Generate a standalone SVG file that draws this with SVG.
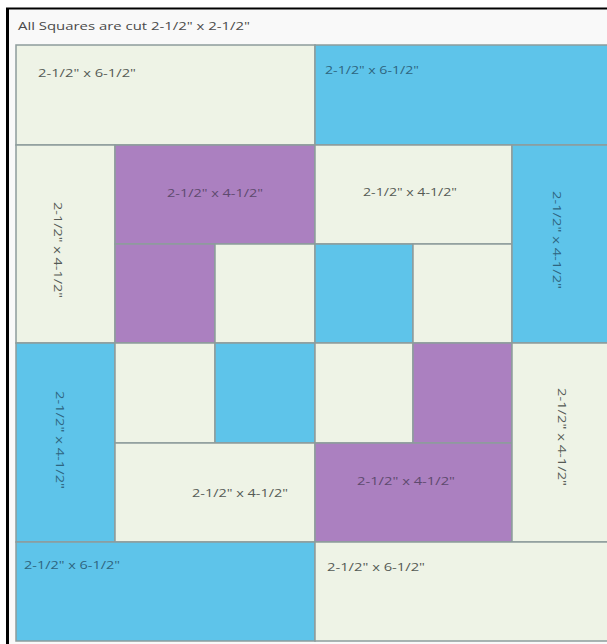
<svg xmlns="http://www.w3.org/2000/svg" width="607" height="644" viewBox="0 0 607 644">
<style>
.cr{fill:#eef3e6}
.bl{fill:#5ec4ea}
.pu{fill:#ab80c0}
.cell{stroke:#8d9c9c;stroke-width:1.5}
text{font-family:"Open Sans","Liberation Sans",sans-serif;font-size:11px}
.tc{fill:#555a55}
.tb{fill:#2e6580}
.tp{fill:#5e4a6e}
.hd{fill:#4a4a4a;font-size:11.5px}
</style>
<rect x="0" y="0" width="607" height="644" fill="#ffffff"/>
<rect x="9" y="10" width="598" height="634" fill="#f9f9f9"/>
<line x1="7.5" y1="8" x2="7.5" y2="644" stroke="#000" stroke-width="3"/>
<line x1="6" y1="8.5" x2="607" y2="8.5" stroke="#000" stroke-width="2"/>
<text class="hd" x="18" y="30" textLength="232" lengthAdjust="spacingAndGlyphs">All Squares are cut 2-1/2" x 2-1/2"</text>

<g id="top-left"><rect class="cr cell" x="16" y="45" width="299" height="100"/><text class="tc" x="38" y="77" textLength="98" lengthAdjust="spacingAndGlyphs">2-1/2" x 6-1/2"</text></g>
<g id="top-right"><rect class="bl cell" x="315" y="45" width="297" height="100"/><text class="tb" x="325" y="74" textLength="94" lengthAdjust="spacingAndGlyphs">2-1/2" x 6-1/2"</text></g>

<g id="left-upper"><rect class="cr cell" x="16" y="145" width="99" height="198"/><text class="tc" x="58" y="250" text-anchor="middle" dominant-baseline="central" transform="rotate(90 58 250)" textLength="96" lengthAdjust="spacingAndGlyphs">2-1/2" x 4-1/2"</text></g>
<g id="purple-bar-1"><rect class="pu cell" x="115" y="145" width="200" height="99"/><text class="tp" x="215" y="197" text-anchor="middle" textLength="96" lengthAdjust="spacingAndGlyphs">2-1/2" x 4-1/2"</text></g>
<g id="purple-square-1"><rect class="pu cell" x="115" y="244" width="100" height="99"/></g>
<g id="cream-square-1"><rect class="cr cell" x="215" y="244" width="100" height="99"/></g>
<g id="cream-bar-1"><rect class="cr cell" x="315" y="145" width="197" height="99"/><text class="tc" x="410" y="196" text-anchor="middle" textLength="94" lengthAdjust="spacingAndGlyphs">2-1/2" x 4-1/2"</text></g>
<g id="blue-square-1"><rect class="bl cell" x="315" y="244" width="98" height="99"/></g>
<g id="cream-square-2"><rect class="cr cell" x="413" y="244" width="99" height="99"/></g>
<g id="right-upper"><rect class="bl cell" x="512" y="145" width="100" height="198"/><text class="tb" x="557" y="240" text-anchor="middle" dominant-baseline="central" transform="rotate(90 557 240)" textLength="98" lengthAdjust="spacingAndGlyphs">2-1/2" x 4-1/2"</text></g>

<g id="left-lower"><rect class="bl cell" x="16" y="343" width="99" height="199"/><text class="tb" x="60" y="440" text-anchor="middle" dominant-baseline="central" transform="rotate(90 60 440)" textLength="98" lengthAdjust="spacingAndGlyphs">2-1/2" x 4-1/2"</text></g>
<g id="cream-square-3"><rect class="cr cell" x="115" y="343" width="100" height="100"/></g>
<g id="blue-square-2"><rect class="bl cell" x="215" y="343" width="100" height="100"/></g>
<g id="cream-bar-2"><rect class="cr cell" x="115" y="443" width="200" height="99"/><text class="tc" x="240" y="497" text-anchor="middle" textLength="96" lengthAdjust="spacingAndGlyphs">2-1/2" x 4-1/2"</text></g>
<g id="cream-square-4"><rect class="cr cell" x="315" y="343" width="98" height="100"/></g>
<g id="purple-square-2"><rect class="pu cell" x="413" y="343" width="99" height="100"/></g>
<g id="purple-bar-2"><rect class="pu cell" x="315" y="443" width="197" height="99"/><text class="tp" x="406" y="485" text-anchor="middle" textLength="98" lengthAdjust="spacingAndGlyphs">2-1/2" x 4-1/2"</text></g>
<g id="right-lower"><rect class="cr cell" x="512" y="343" width="100" height="199"/><text class="tc" x="562" y="437" text-anchor="middle" dominant-baseline="central" transform="rotate(90 562 437)" textLength="98" lengthAdjust="spacingAndGlyphs">2-1/2" x 4-1/2"</text></g>

<g id="bottom-left"><rect class="bl cell" x="16" y="542" width="299" height="99"/><text class="tb" x="24" y="569" textLength="96" lengthAdjust="spacingAndGlyphs">2-1/2" x 6-1/2"</text></g>
<g id="bottom-right"><rect class="cr cell" x="315" y="542" width="297" height="99"/><text class="tc" x="327" y="571" textLength="98" lengthAdjust="spacingAndGlyphs">2-1/2" x 6-1/2"</text></g>
<g id="connectors"></g>
</svg>
